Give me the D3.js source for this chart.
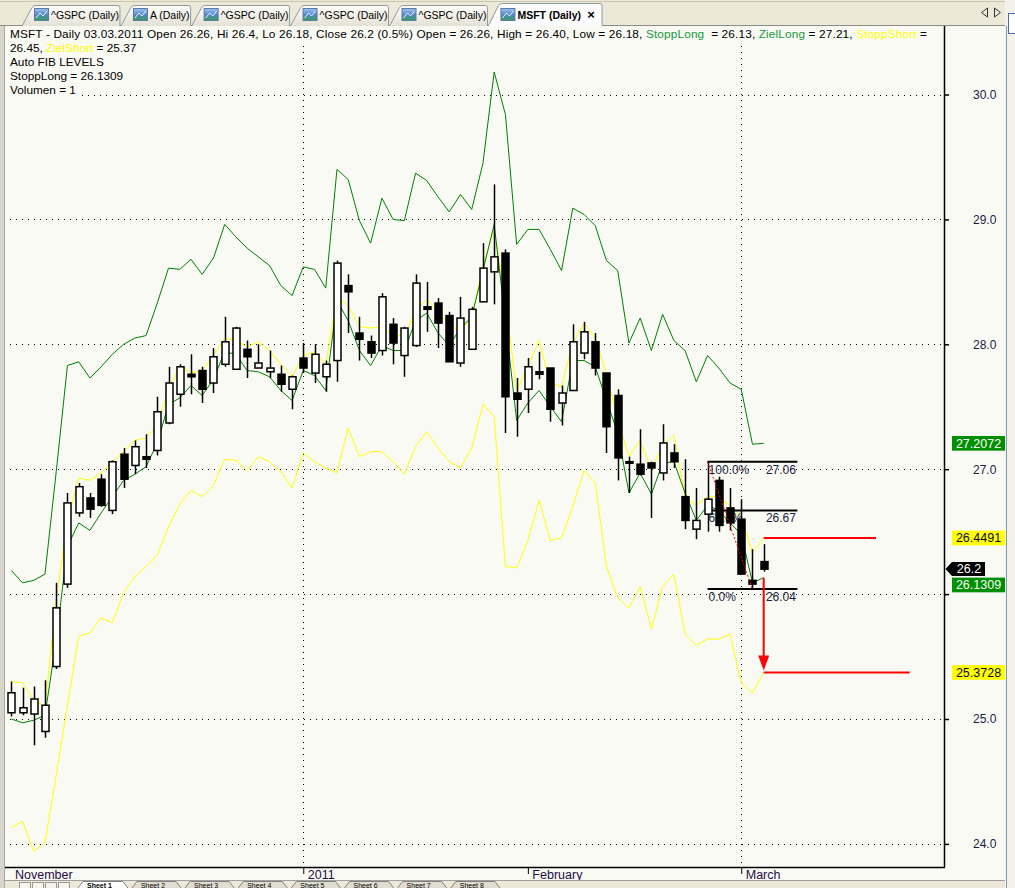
<!DOCTYPE html>
<html><head><meta charset="utf-8">
<script src="https://cdn.jsdelivr.net/npm/d3@7"></script>
<style>
html,body{margin:0;padding:0;background:#fafaf5;overflow:hidden}
svg{display:block}
text{font-family:"Liberation Sans",Arial,sans-serif}
</style></head><body>
<svg id="c" width="1015" height="888"></svg>
<script>
// ---------------- DATA ----------------
const openV  = [25.05,25.05,25.04,24.90,25.42,26.08,26.65,26.77,26.92,26.67,27.12,27.03,27.10,27.15,27.37,27.60,27.76,27.79,27.69,27.84,27.80,27.96,27.81,27.78,27.76,27.64,27.89,27.77,27.74,27.87,28.47,28.09,28.02,27.95,28.16,27.91,27.99,28.30,28.33,28.23,27.85,27.96,28.34,28.58,28.73,27.61,27.64,27.78,27.81,27.53,27.63,27.93,28.02,27.77,27.59,27.05,27.04,27.05,26.97,27.13,26.78,26.52,26.64,26.91,26.69,26.60,26.11,26.26];
const highV  = [25.30,25.25,25.26,25.31,26.09,26.81,26.89,26.81,26.96,27.07,27.17,27.23,27.28,27.58,27.82,27.84,27.92,27.82,27.97,28.22,28.14,28.03,28.00,27.95,27.83,27.75,28.01,28.00,27.87,28.67,28.56,28.22,28.07,28.41,28.21,28.14,28.56,28.50,28.37,28.26,28.38,28.30,28.81,29.28,28.76,27.73,27.89,27.94,27.81,27.67,28.16,28.18,28.09,27.77,27.64,27.10,27.32,27.06,27.36,27.20,27.08,26.85,27.06,26.94,26.85,26.76,26.36,26.40];
const lowV   = [25.02,25.03,24.79,24.85,25.40,26.05,26.62,26.61,26.70,26.64,26.85,26.96,27.01,27.11,27.36,27.50,27.60,27.53,27.61,27.82,27.80,27.73,27.81,27.73,27.62,27.48,27.77,27.69,27.62,27.70,28.09,27.87,27.89,27.91,27.84,27.74,27.98,28.10,27.97,27.86,27.82,27.96,28.34,28.32,27.29,27.26,27.45,27.72,27.38,27.35,27.63,27.88,27.75,27.13,26.91,26.81,26.95,26.61,26.91,27.01,26.52,26.44,26.50,26.50,26.51,26.16,26.04,26.18];
const closeV = [25.21,25.09,25.16,25.11,25.89,26.73,26.86,26.68,26.71,27.06,26.92,27.18,27.08,27.46,27.69,27.82,27.74,27.64,27.90,28.02,28.13,27.90,27.85,27.81,27.68,27.74,27.81,27.92,27.84,28.65,28.42,28.04,27.93,28.38,28.01,28.13,28.49,28.28,28.17,27.86,28.21,28.28,28.61,28.70,27.58,27.56,27.82,27.76,27.48,27.61,28.02,28.10,27.81,27.34,27.09,27.06,26.96,27.01,27.21,27.06,26.59,26.59,26.76,26.55,26.57,26.16,26.08,26.20];

const zielLong   = [26.19,26.09,26.11,26.16,26.98,27.83,27.86,27.73,27.82,27.92,28.00,28.05,28.07,28.33,28.61,28.60,28.68,28.56,28.69,28.96,28.86,28.77,28.70,28.63,28.47,28.39,28.62,28.60,28.45,29.40,29.32,28.99,28.81,29.17,29.00,28.99,29.37,29.31,29.18,29.06,29.20,29.08,29.45,30.18,29.84,28.80,28.92,28.92,28.76,28.59,29.09,29.04,28.95,28.67,28.59,28.01,28.21,27.95,28.24,28.03,27.95,27.70,27.91,27.81,27.69,27.64,27.20,27.2072];
const zielShort  = [24.13,24.18,23.94,24.01,24.55,25.11,25.66,25.69,25.81,25.77,26.01,26.14,26.22,26.31,26.54,26.72,26.83,26.78,26.87,27.08,27.07,26.99,27.10,27.06,26.98,26.85,27.13,27.06,27.01,26.97,27.33,27.10,27.14,27.14,27.06,26.96,27.18,27.30,27.17,27.06,27.01,27.17,27.52,27.42,26.22,26.21,26.43,26.75,26.43,26.45,26.70,26.99,26.89,26.22,25.97,25.89,26.06,25.72,26.06,26.16,25.68,25.59,25.64,25.64,25.68,25.29,25.21,25.3728];
const stoppLong  = [25.00,24.97,24.99,25.03,25.63,26.38,26.57,26.51,26.65,26.78,26.91,26.96,27.02,27.21,27.52,27.57,27.67,27.59,27.72,27.94,27.92,27.79,27.78,27.74,27.63,27.55,27.79,27.75,27.63,28.35,28.19,27.95,27.83,27.99,27.95,27.95,28.19,28.25,28.09,27.99,28.13,28.22,28.59,28.96,28.19,27.39,27.53,27.63,27.50,27.38,27.87,27.87,27.82,27.55,27.29,26.81,26.97,26.80,27.05,27.06,26.81,26.59,26.71,26.67,26.57,26.48,26.09,26.1309];
const stoppShort = [25.30,25.29,25.15,25.10,25.95,26.59,26.93,26.91,26.97,27.06,27.14,27.23,27.25,27.35,27.63,27.83,27.77,27.79,27.91,28.05,28.03,27.98,28.02,27.95,27.84,27.74,27.91,27.94,27.84,28.38,28.31,28.14,28.13,28.14,28.07,28.07,28.27,28.36,28.27,28.15,28.11,28.21,28.63,28.92,28.35,27.63,27.82,28.03,27.69,27.66,28.01,28.17,28.05,27.76,27.40,27.10,27.23,26.99,27.19,27.27,26.78,26.71,26.78,26.78,26.71,26.62,26.33,26.4491];

const priceTicks   = [24,25,26,27,28,29,30];
const monthLabels  = ["November","2011","February","March"];
const monthStartIdx = [26,46,65];          // candle index of first trading day of 2011 / Feb / Mar
const verticalGridIdx = [26,65];
const fibLabels = ["100.0%","61.8%","0.0%"];
const fibValues = [27.06,26.67,26.04];
const fibStartIdx = 62, fibEndIdx = 66;
const markerValues = [27.2072,26.4491,26.2,26.1309,25.3728];
const markerKinds  = ["long","short","last","long","short"];
const tabLabels = ["^GSPC (Daily)","A (Daily)","^GSPC (Daily)","^GSPC (Daily)","^GSPC (Daily)","MSFT (Daily)"];
const sheetLabels = ["Sheet 1","Sheet 2","Sheet 3","Sheet 4","Sheet 5","Sheet 6","Sheet 7","Sheet 8"];
const legendLines = [
  [["MSFT - Daily 03.03.2011 Open 26.26, Hi 26.4, Lo 26.18, Close 26.2 (0.5%) Open = 26.26, High = 26.40, Low = 26.18, ","plain"],["StoppLong","long"],["  = 26.13, ","plain"],["ZielLong","long"],[" = 27.21, ","plain"],["StoppShort","short"],[" =","plain"]],
  [["26.45, ","plain"],["ZielShort","short"],[" = 25.37","plain"]],
  [["Auto FIB LEVELS","plain"]],
  [["StoppLong = 26.1309","plain"]],
  [["Volumen = 1","plain"]]
];

// ---------------- LAYOUT ----------------
const W = 1015, H = 888;
const AX = 944, AXB = 867, TOP = 26;
const BG = "#fafaf5";
const GREEN = "#008000", YEL = "#ffff00";
const roleColor = {plain:"#000", long:"#13993c", short:"#ffff00"};

const svg = d3.select("#c");
const x = d3.scaleLinear().domain([0, openV.length - 1]).range([11.3, 763.7]);
const y = d3.scaleLinear().domain([24, 30]).range([843.9, 94.5]);
const candles = openV.map((o,i)=>({i, o, h:highV[i], l:lowV[i], c:closeV[i]}));

svg.append("rect").attr("width",W).attr("height",H).attr("fill",BG);

// grid
const grid = svg.append("g").attr("shape-rendering","crispEdges");
priceTicks.forEach(v=>{
  const yy = Math.round(y(v)) + 0.5;
  grid.append("line").attr("x1",10).attr("x2",AX).attr("y1",yy).attr("y2",yy)
    .attr("stroke","#000").attr("stroke-dasharray","1,5");
});
verticalGridIdx.forEach(i=>{
  const xx = Math.round(x(i)) + 0.5;
  grid.append("line").attr("x1",xx).attr("x2",xx).attr("y1",TOP+2).attr("y2",AXB)
    .attr("stroke","#000").attr("stroke-dasharray","1,5");
});

// legend text (with opaque background)
const lg = svg.append("g");
const legendFs = 11.8;
legendLines.forEach((segs,li)=>{
  const t = lg.append("text").attr("x",10).attr("y",38.3 + li*13.93)
    .attr("font-size",legendFs).style("white-space","pre");
  segs.forEach(s=>t.append("tspan").attr("fill",roleColor[s[1]]).text(s[0]));
  if (li === 0) t.attr("textLength",917).attr("lengthAdjust","spacing");
  const bb = t.node().getBBox();
  lg.insert("rect","text").attr("x",bb.x-1).attr("y",bb.y).attr("width",bb.width+2).attr("height",bb.height)
    .attr("fill",BG);
});

// indicator lines
const line = d3.line().x((d,i)=>x(i)).y(d=>y(d));
const lines = svg.append("g").attr("fill","none").attr("stroke-width",1);
lines.append("path").datum(zielShort).attr("d",line).attr("stroke",YEL);
lines.append("path").datum(zielLong).attr("d",line).attr("stroke",GREEN);
lines.append("path").datum(stoppShort).attr("d",line).attr("stroke",YEL);
lines.append("path").datum(stoppLong).attr("d",line).attr("stroke",GREEN);

// fib levels: labels (under candles)
const fib = svg.append("g");
const fx1 = x(fibStartIdx), fx2 = x(fibStartIdx + 8), fxv = x(fibStartIdx + 5.2);
fibValues.forEach((v,k)=>{
  const yy = y(v);
  fib.append("text").attr("x",fx1+1).attr("y",yy+12).attr("font-size",12).attr("fill","#1a1a40").text(fibLabels[k]);
  fib.append("text").attr("x",fxv).attr("y",yy+12).attr("font-size",12).attr("fill","#1a1a40").text(d3.format(".2f")(v));
});

// candles
const cg = svg.append("g");
candles.forEach(d=>{
  const cx = Math.round(x(d.i)) + 0.5;
  cg.append("line").attr("x1",cx).attr("x2",cx).attr("y1",y(d.h)).attr("y2",y(d.l))
    .attr("stroke","#000").attr("stroke-width",1.5);
  const up = d.c >= d.o;
  const top = y(Math.max(d.o,d.c)), bot = y(Math.min(d.o,d.c));
  cg.append("rect").attr("x",cx-3.5).attr("width",7).attr("y",top).attr("height",Math.max(1.5,bot-top))
    .attr("fill",up ? "#ffffff" : "#000").attr("stroke","#000").attr("stroke-width",1.5);
});

// fib level lines
fibValues.forEach(v=>{
  fib.append("line").attr("x1",fx1).attr("x2",fx2).attr("y1",y(v)).attr("y2",y(v))
    .attr("stroke","#000").attr("stroke-width",2);
});

// red dotted swing line
svg.append("line").attr("x1",x(fibStartIdx)).attr("y1",y(highV[fibStartIdx]))
  .attr("x2",x(fibEndIdx)).attr("y2",y(lowV[fibEndIdx]))
  .attr("stroke","#ff0000").attr("stroke-width",1).attr("stroke-dasharray","2,2");

// red target lines + arrow
const last = openV.length - 1;
const red = svg.append("g").attr("stroke","#ff0000").attr("stroke-width",2);
const lx = x(last);
red.append("line").attr("x1",lx).attr("x2",x(last+10)).attr("y1",y(stoppShort[last])).attr("y2",y(stoppShort[last]));
red.append("line").attr("x1",lx).attr("x2",x(last+13)).attr("y1",y(zielShort[last])).attr("y2",y(zielShort[last]));
const tipY = y(zielShort[last]) - 2;
red.append("line").attr("x1",lx).attr("x2",lx).attr("y1",y(stoppLong[last])).attr("y2",tipY-12);
svg.append("path").attr("d",`M${lx-5.5},${tipY-15} L${lx+5.5},${tipY-15} L${lx},${tipY} Z`).attr("fill","#ff0000");

// axes
svg.append("line").attr("x1",AX+0.5).attr("x2",AX+0.5).attr("y1",TOP).attr("y2",AXB).attr("stroke","#000").attr("stroke-width",1.5);
svg.append("line").attr("x1",5).attr("x2",AX+1).attr("y1",AXB+0.5).attr("y2",AXB+0.5).attr("stroke","#000").attr("stroke-width",1.5);

const ya = svg.append("g").attr("transform",`translate(${AX+1},0)`)
  .call(d3.axisRight(y).tickValues(priceTicks).tickFormat(d3.format(".1f")).tickSize(4).tickPadding(24));
ya.select(".domain").remove();
ya.attr("font-size",12).attr("font-family","Liberation Sans, Arial, sans-serif");
ya.selectAll(".tick line").attr("stroke","#000").attr("stroke-width",1.5);
ya.selectAll(".tick text").attr("fill","#1a1a48");

const xa = svg.append("g").attr("transform",`translate(0,${AXB})`)
  .call(d3.axisBottom(x).tickValues(monthStartIdx).tickFormat((d,k)=>monthLabels[k+1]).tickSize(7));
xa.select(".domain").remove();
xa.attr("font-size",12.5).attr("font-family","Liberation Sans, Arial, sans-serif");
xa.selectAll(".tick line").attr("stroke","#000");
xa.selectAll(".tick text").attr("text-anchor","start").attr("x",4).attr("y",3).attr("dy","0.71em").attr("fill","#220c44");
svg.append("text").attr("x",15).attr("y",AXB+12).attr("font-size",12.5).attr("fill","#220c44").text(monthLabels[0]);

// right-axis value markers
const mg = svg.append("g");
let prevBottom = -1e9;
const boxes = [];
markerValues.map((v,k)=>({v,k,yy:y(v)})).sort((a,b)=>a.yy-b.yy).forEach(m=>{
  const kind = markerKinds[m.k];
  const h = kind==="last" ? 14 : 14.7;
  let top = m.yy - h/2;
  if (top < prevBottom + 1.5) top = prevBottom + 1.5;
  prevBottom = top + h;
  boxes.push([top, top+h]);
  const cy = top + h/2;
  const txt = kind==="last" ? String(m.v) : d3.format(".4f")(m.v);
  if (kind==="last") {
    mg.append("path").attr("d",`M${AX+1.5},${cy} L${AX+8},${top} L${AX+41},${top} L${AX+41},${top+h} L${AX+8},${top+h} Z`).attr("fill","#000");
    mg.append("text").attr("x",AX+25).attr("y",cy+4.3).attr("text-anchor","middle").attr("font-size",12.5).attr("fill","#fff").text(txt);
  } else {
    mg.append("rect").attr("x",AX+8).attr("y",top).attr("width",53).attr("height",h)
      .attr("fill", kind==="long" ? "#008f00" : YEL);
    mg.append("text").attr("x",AX+34.5).attr("y",cy+4.3).attr("text-anchor","middle").attr("font-size",12.5)
      .attr("fill", kind==="long" ? "#ffffff" : "#0a0a30").text(txt);
  }
});
// tick labels hidden behind a value marker are not shown (as in the platform)
ya.selectAll(".tick").each(function(v){
  const ty = y(v);
  if (boxes.some(b => ty + 5 > b[0] && ty - 5 < b[1])) d3.select(this).select("text").remove();
});

// ---------------- window chrome ----------------
// left strip
svg.append("rect").attr("x",0).attr("y",TOP).attr("width",5).attr("height",H-TOP).attr("fill","#d8d5cc");
svg.append("line").attr("x1",4.5).attr("x2",4.5).attr("y1",TOP).attr("y2",H).attr("stroke","#a7a7a0");
// right side panel
svg.append("rect").attr("x",1005).attr("y",0).attr("width",10).attr("height",H).attr("fill","#f2f1ec");
svg.append("line").attr("x1",1006.5).attr("x2",1006.5).attr("y1",TOP).attr("y2",H).attr("stroke","#7f9db9");
svg.append("rect").attr("x",1008.5).attr("y",13.5).attr("width",8).attr("height",20).attr("fill","#fff").attr("stroke","#4a6ea8");

// top tab bar
const tb = svg.append("g");
tb.append("rect").attr("x",0).attr("y",0).attr("width",1005).attr("height",TOP).attr("fill","#ece9d8");
tb.append("line").attr("x1",0).attr("x2",1005).attr("y1",1.5).attr("y2",1.5).attr("stroke","#c9c5b5");
tb.append("line").attr("x1",0).attr("x2",1005).attr("y1",TOP-0.5).attr("y2",TOP-0.5).attr("stroke","#8c8c84");
const defs = svg.append("defs");
const tg = defs.append("linearGradient").attr("id","tabg").attr("x1",0).attr("x2",0).attr("y1",0).attr("y2",1);
tg.append("stop").attr("offset","0").attr("stop-color","#fdfdfb");
tg.append("stop").attr("offset","1").attr("stop-color","#e4e1d4");
const ig = defs.append("linearGradient").attr("id","icong").attr("x1",0).attr("x2",0).attr("y1",0).attr("y2",1);
ig.append("stop").attr("offset","0").attr("stop-color","#9fc3f0");
ig.append("stop").attr("offset","0.55").attr("stop-color","#4f86c8");
ig.append("stop").attr("offset","1").attr("stop-color","#3aa050");

let tx = 22;
const tabShapes = [];
tabLabels.forEach((lab,k)=>{
  const active = k === tabLabels.length - 1;
  const tt = tb.append("text").attr("font-size",10.5).attr("font-weight",active?"bold":"normal").text(lab);
  const tw = tt.node().getComputedTextLength();
  const w = active ? tw + 50 : tw + 30;
  tabShapes.push({x0:tx, x1:tx+w, active, tt});
  tx += w + 1;
});
tabShapes.forEach((t,k)=>{
  const top = t.active ? 3.5 : 5.5;
  tb.insert("path", "text").attr("d",`M${t.x0},${TOP} L${t.x0+10},${top+2} Q${t.x0+11.5},${top} ${t.x0+14},${top} L${t.x1-2},${top} Q${t.x1},${top} ${t.x1},${top+2} L${t.x1},${TOP}`)
    .attr("fill", t.active ? "#fcfcfe" : "url(#tabg)").attr("stroke","#919b9c");
  tb.append("rect").attr("x",t.x0+12.5).attr("y",8.5).attr("width",14).attr("height",12).attr("fill","url(#icong)").attr("stroke","#5b7aa6");
  tb.append("path").attr("d",`M${t.x0+14},${18} L${t.x0+18},${13} L${t.x0+21},${16} L${t.x0+25},${11}`).attr("fill","none").attr("stroke","#e8f4ff").attr("stroke-width",1);
  t.tt.raise().attr("x",t.x0+29).attr("y",19).attr("fill","#000");
  if (t.active) {
    tb.append("text").attr("x",t.x1-11).attr("y",19).attr("font-size",13).attr("font-weight","bold").attr("text-anchor","middle").text("×");
    tb.append("line").attr("x1",t.x0+1).attr("x2",t.x1-0.5).attr("y1",TOP-0.5).attr("y2",TOP-0.5).attr("stroke","#fcfcfe").attr("stroke-width",1.5);
  }
});
tb.append("path").attr("d","M987.5,8 L981.5,12.5 L987.5,17 Z").attr("fill","none").attr("stroke","#333");
tb.append("path").attr("d","M994.5,8 L1000.5,12.5 L994.5,17 Z").attr("fill","none").attr("stroke","#333");

// bottom sheet bar
const sb = svg.append("g");
sb.append("rect").attr("x",5).attr("y",880).attr("width",1000).attr("height",8).attr("fill","#ece9d8");
sb.append("line").attr("x1",5).attr("x2",1005).attr("y1",880.5).attr("y2",880.5).attr("stroke","#a0a0a0");
for (let k=0;k<4;k++) sb.append("rect").attr("x",19.5+k*13).attr("y",882.5).attr("width",11).attr("height",8).attr("fill","#f4f3ee").attr("stroke","#9a9a90");
let sx = 78;
sheetLabels.forEach((s,k)=>{
  const t = sb.append("text").attr("x",sx+9).attr("y",887.5).attr("font-size",7).attr("font-weight",k===0?"bold":"normal").text(s);
  const w = Math.max(44, t.node().getComputedTextLength() + 20);
  sb.insert("path","text").attr("d",`M${sx},888 L${sx+5},881.5 L${sx+w},881.5 L${sx+w+5},888`).attr("fill",k===0?"#fff":"#e0ddd0").attr("stroke","#808080");
  sx += w + 9;
});
</script>
</body></html>
